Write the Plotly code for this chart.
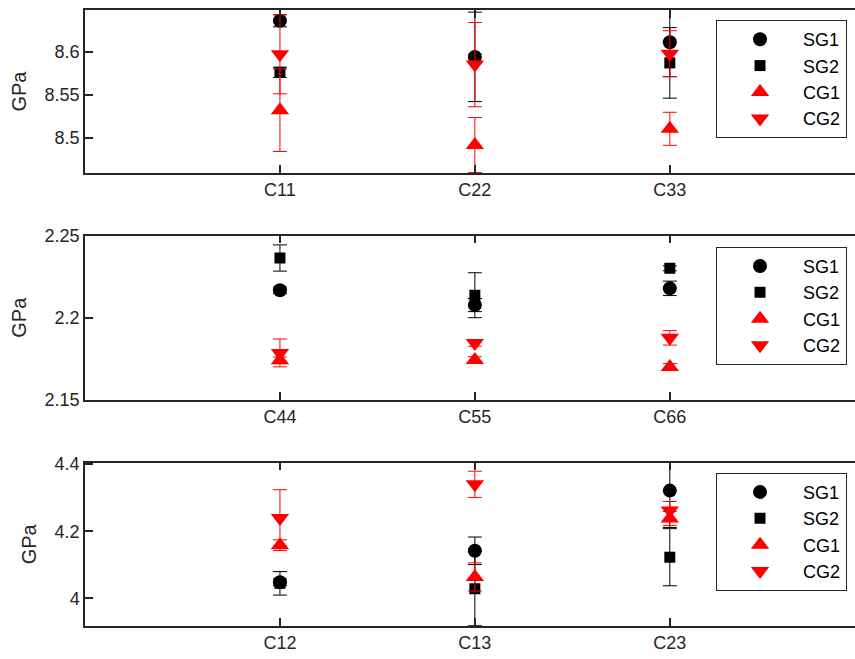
import plotly.graph_objects as go

# ---------------- data ----------------
labels_top = ["C11", "C22", "C33"]
labels_mid = ["C44", "C55", "C66"]
labels_bot = ["C12", "C13", "C23"]
positions = [1, 2, 3]
series_names = ["SG1", "SG2", "CG1", "CG2"]

sg1_top = [8.636, 8.594, 8.611]
sg1_top_err = [0.007, 0.052, 0.040]
sg2_top = [8.576, 8.592, 8.587]
sg2_top_err = [0.006, 0.005, 0.041]
cg1_top = [8.532, 8.4915, 8.5104]
cg1_top_err = [0.048, 0.032, 0.0192]
cg2_top = [8.597, 8.585, 8.5977]
cg2_top_err = [0.046, 0.049, 0.0267]

sg1_mid = [2.2167, 2.2077, 2.2179]
sg1_mid_err = [0.002, 0.004, 0.0044]
sg2_mid = [2.2364, 2.2137, 2.2301]
sg2_mid_err = [0.008, 0.0137, 0.0015]
cg1_mid = [2.174, 2.1742, 2.170]
cg1_mid_err = [0.002, 0.002, 0.002]
cg2_mid = [2.1785, 2.1846, 2.1877]
cg2_mid_err = [0.0085, 0.002, 0.0044]

sg1_bot = [4.048, 4.1418, 4.321]
sg1_bot_err = [0.010, 0.041, 0.110]
sg2_bot = [4.045, 4.0288, 4.1227]
sg2_bot_err = [0.035, 0.110, 0.085]
cg1_bot = [4.1584, 4.0639, 4.2377]
cg1_bot_err = [0.016, 0.042, 0.021]
cg2_bot = [4.2395, 4.3397, 4.2615]
cg2_bot_err = [0.084, 0.039, 0.027]

y_ranges = [[8.459, 8.6485], [2.15, 2.25], [3.918, 4.404]]
y_ticks = [[8.5, 8.55, 8.6], [2.15, 2.2, 2.25], [4.0, 4.2, 4.4]]
y_ticktext = [["8.5", "8.55", "8.6"], ["2.15", "2.2", "2.25"], ["4", "4.2", "4.4"]]

# ---------------- styles ----------------
styles = {
    "SG1": dict(symbol="circle", size=14, color="black"),
    "SG2": dict(symbol="square", size=11, color="black"),
    "CG1": dict(symbol="triangle-up", size=16, color="red"),
    "CG2": dict(symbol="triangle-down", size=16, color="red"),
}
AX = "#262626"
FONT = "Liberation Sans, Arial, sans-serif"

panels = [
    (labels_top, [(sg1_top, sg1_top_err), (sg2_top, sg2_top_err), (cg1_top, cg1_top_err), (cg2_top, cg2_top_err)]),
    (labels_mid, [(sg1_mid, sg1_mid_err), (sg2_mid, sg2_mid_err), (cg1_mid, cg1_mid_err), (cg2_mid, cg2_mid_err)]),
    (labels_bot, [(sg1_bot, sg1_bot_err), (sg2_bot, sg2_bot_err), (cg1_bot, cg1_bot_err), (cg2_bot, cg2_bot_err)]),
]

fig = go.Figure()
legend_ids = ["legend", "legend2", "legend3"]
for p, (labels, data) in enumerate(panels):
    xa = "x" if p == 0 else f"x{p+1}"
    ya = "y" if p == 0 else f"y{p+1}"
    for name, (vals, errs) in zip(series_names, data):
        st = styles[name]
        fig.add_trace(go.Scatter(
            x=positions, y=vals, mode="markers", name=name,
            xaxis=xa, yaxis=ya,
            marker=dict(symbol=st["symbol"], size=st["size"], color=st["color"],
                        line=dict(width=0)),
            error_y=dict(type="data", array=errs, visible=True,
                         color=st["color"], thickness=1, width=7),
            legend=legend_ids[p], legendgroup=f"{p}{name}",
            showlegend=True,
        ))

domains = [[0.7354, 1.0], [0.3674, 0.6336], [0.0, 0.2651]]
legend_tops = [0.9838, 0.6157, 0.2489]
all_labels = [labels_top, labels_mid, labels_bot]

layout = dict(
    width=855, height=659,
    margin=dict(l=85, r=0, t=10, b=33),
    paper_bgcolor="white", plot_bgcolor="white",
    font=dict(family=FONT, size=18, color=AX),
)
for p in range(3):
    xk = "xaxis" if p == 0 else f"xaxis{p+1}"
    yk = "yaxis" if p == 0 else f"yaxis{p+1}"
    layout[xk] = dict(
        domain=[0, 1], anchor="y" if p == 0 else f"y{p+1}",
        range=[0, 3.95], tickmode="array", tickvals=positions, ticktext=all_labels[p],
        ticks="inside", ticklen=8, tickwidth=1.5, tickcolor=AX,
        showline=True, linecolor=AX, linewidth=1.5, mirror="ticks",
        showgrid=False, zeroline=False,
        tickfont=dict(family=FONT, size=18, color=AX),
    )
    layout[yk] = dict(
        domain=domains[p], anchor="x" if p == 0 else f"x{p+1}",
        range=y_ranges[p], tickmode="array", tickvals=y_ticks[p], ticktext=y_ticktext[p],
        ticks="inside", ticklen=8, tickwidth=1.5, tickcolor=AX,
        showline=True, linecolor=AX, linewidth=1.5, mirror=False,
        showgrid=False, zeroline=False,
        tickfont=dict(family=FONT, size=18, color=AX),
        title=dict(text="GPa", font=dict(family=FONT, size=20, color=AX), standoff=13),
    )
    lk = legend_ids[p]
    layout[lk] = dict(
        x=0.8195, y=legend_tops[p], xanchor="left", yanchor="top",
        xref="paper", yref="paper",
        bgcolor="white", bordercolor=AX, borderwidth=1,
        font=dict(family=FONT, size=18, color="black"),
        itemwidth=76, tracegroupgap=0,
    )
fig.update_layout(**layout)

fig.write_html(
    "out.html",
    config={"displayModeBar": False},
    post_script="document.body.style.margin='0';document.body.style.overflow='hidden';",
)
